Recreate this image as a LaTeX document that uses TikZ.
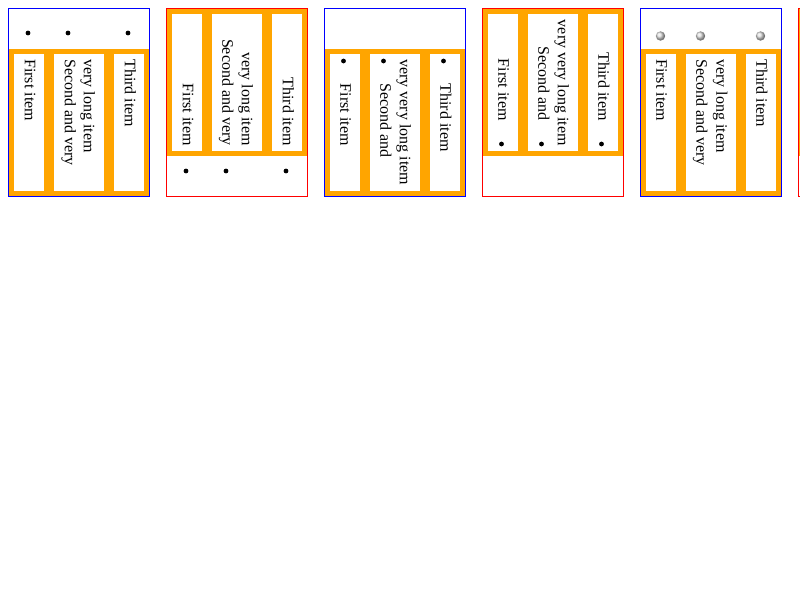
\documentclass[tikz,border=0pt]{standalone}
\usepackage{fontspec}
\setmainfont{Liberation Serif}
\definecolor{cssblue}{HTML}{0000FF}
\definecolor{cssred}{HTML}{FF0000}
\definecolor{cssorange}{HTML}{FFA500}
\begin{document}
\begin{tikzpicture}[x=0.75pt,y=-0.75pt,
  frame/.style={line width=0.75pt},
  bluebox/.style={frame,draw=cssblue},
  redbox/.style={frame,draw=cssred},
  band/.style={fill=cssorange},
  cell/.style={fill=white},
  lbl/.style={font=\fontsize{12pt}{14pt}\selectfont,inner sep=0pt,rotate=-90},
  from/.style={lbl,anchor=mid west},
  upto/.style={lbl,anchor=mid east},
  disc/.style={circle,fill=black,inner sep=0pt,minimum size=3.6pt},
  ball/.style={circle,inner sep=0pt,minimum size=7pt,shading=ball,ball color=gray!28},
]
\useasboundingbox (0,0) rectangle (800,600);
\fill[white] (0,0) rectangle (800,600);

% list band at the bottom of the box, text from the top
\begin{scope}[shift={(8,0)}]
  \fill[band] (1,49) rectangle (141,196);
  \fill[cell] (6,54) rectangle (36,191);
  \fill[cell] (46,54) rectangle (96,191);
  \fill[cell] (106,54) rectangle (136,191);
  \draw[bluebox] (0.5,8.5) rectangle (141.5,196.5);
  \node[from] (a1) at (20,59) {First item};
  \node[from] (a2) at (60,59) {Second and very};
  \node[from] (a3) at (79,59) {very long item};
  \node[from] (a4) at (120,59) {Third item};
  \node[disc] (ad1) at (20,33) {};
  \node[disc] (ad2) at (60,33) {};
  \node[disc] (ad3) at (120,33) {};
\end{scope}

% list band at the top, text flush to the end
\begin{scope}[shift={(166,0)}]
  \fill[band] (1,9) rectangle (141,156);
  \fill[cell] (6,14) rectangle (36,151);
  \fill[cell] (46,14) rectangle (96,151);
  \fill[cell] (106,14) rectangle (136,151);
  \draw[redbox] (0.5,8.5) rectangle (141.5,196.5);
  \node[upto] (b1) at (20,146) {First item};
  \node[upto] (b2) at (59.5,146) {Second and very};
  \node[upto] (b3) at (79,146) {very long item};
  \node[upto] (b4) at (120,146) {Third item};
  \node[disc] (bd1) at (20,171) {};
  \node[disc] (bd2) at (60,171) {};
  \node[disc] (bd3) at (120,171) {};
\end{scope}

% markers inside the items, at the start
\begin{scope}[shift={(324,0)}]
  \fill[band] (1,49) rectangle (141,196);
  \fill[cell] (6,54) rectangle (36,191);
  \fill[cell] (46,54) rectangle (96,191);
  \fill[cell] (106,54) rectangle (136,191);
  \draw[bluebox] (0.5,8.5) rectangle (141.5,196.5);
  \node[from] (c1) at (19.5,83.5) {First item};
  \node[from] (c2) at (59.5,83.5) {Second and};
  \node[from] (c3) at (79,59) {very very long item};
  \node[from] (c4) at (119.5,83.5) {Third item};
  \node[disc] (cd1) at (19.5,61) {};
  \node[disc] (cd2) at (59.5,61) {};
  \node[disc] (cd3) at (119.5,61) {};
\end{scope}

% markers inside the items, at the end
\begin{scope}[shift={(482,0)}]
  \fill[band] (1,9) rectangle (141,156);
  \fill[cell] (6,14) rectangle (36,151);
  \fill[cell] (46,14) rectangle (96,151);
  \fill[cell] (106,14) rectangle (136,151);
  \draw[redbox] (0.5,8.5) rectangle (141.5,196.5);
  \node[upto] (d1) at (19.5,121) {First item};
  \node[upto] (d2) at (59.5,121) {Second and};
  \node[upto] (d3) at (79,146) {very very long item};
  \node[upto] (d4) at (119.5,121) {Third item};
  \node[disc] (dd1) at (19.5,144) {};
  \node[disc] (dd2) at (59.5,144) {};
  \node[disc] (dd3) at (119.5,144) {};
\end{scope}

% image markers
\begin{scope}[shift={(640,0)}]
  \fill[band] (1,49) rectangle (141,196);
  \fill[cell] (6,54) rectangle (36,191);
  \fill[cell] (46,54) rectangle (96,191);
  \fill[cell] (106,54) rectangle (136,191);
  \draw[bluebox] (0.5,8.5) rectangle (141.5,196.5);
  \node[from] (e1) at (19.5,59) {First item};
  \node[from] (e2) at (59.5,59) {Second and very};
  \node[from] (e3) at (79.5,59) {very long item};
  \node[from] (e4) at (119.5,59) {Third item};
  \node[ball] (ed1) at (20.5,36) {};
  \node[ball] (ed2) at (60.5,36) {};
  \node[ball] (ed3) at (120.5,36) {};
\end{scope}

% next box, running off the right edge
\begin{scope}
  \clip (0,0) rectangle (800,600);
  \begin{scope}[shift={(798,0)}]
    \fill[band] (1,9) rectangle (141,156);
    \draw[redbox] (0.5,8.5) rectangle (141.5,196.5);
  \end{scope}
\end{scope}
\end{tikzpicture}
\end{document}
